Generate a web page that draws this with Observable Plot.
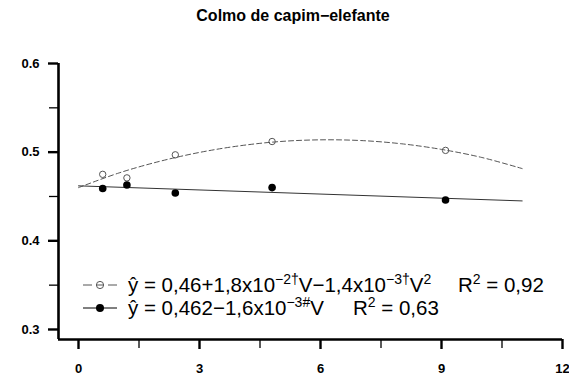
<!DOCTYPE html>
<html>
<head>
<meta charset="utf-8">
<script src="https://cdn.jsdelivr.net/npm/d3@7"></script>
<script src="https://cdn.jsdelivr.net/npm/@observablehq/plot@0.6"></script>
<style>
  html, body { margin: 0; padding: 0; background: #fff; }
  #chart { width: 569px; height: 381px; }
</style>
</head>
<body>
<div id="chart"></div>
<script>
// ---- data ----
const title = "Colmo de capim\u2212elefante";
const doseV = [0.6, 1.2, 2.4, 4.8, 9.1];
const openY = [0.475, 0.471, 0.497, 0.512, 0.502];
const filledY = [0.459, 0.463, 0.454, 0.460, 0.446];
// fitted quadratic curve
const curveV = [0, 1, 2, 3, 4, 5, 6, 7, 8, 9, 10, 11];
const curveY = [0.460, 0.4765, 0.4895, 0.4997, 0.5072, 0.5120, 0.5139, 0.5131, 0.5095, 0.5031, 0.4940, 0.4815];
// fitted straight line
const lineV = [0, 11];
const lineY = [0.462, 0.445];
const xMajor = [0, 3, 6, 9, 12];
const xMinor = [1.5, 4.5, 7.5, 10.5];
const yMajor = [0.3, 0.4, 0.5, 0.6];
const yMinor = [0.35, 0.45, 0.55];
const legend1 = {parts: [["\u0177 = 0,46+1,8x10", 0], ["\u22122\u2020", 1], ["V\u22121,4x10", 0], ["\u22123\u2020", 1], ["V", 0], ["2", 1]], r2: "0,92"};
const legend2 = {parts: [["\u0177 = 0,462\u22121,6x10", 0], ["\u22123#", 1], ["V", 0]], r2: "0,63"};

const openData = doseV.map((v, i) => ({v, y: openY[i]}));
const filledData = doseV.map((v, i) => ({v, y: filledY[i]}));
const curveData = curveV.map((v, i) => ({v, y: curveY[i]}));
const lineData = lineV.map((v, i) => ({v, y: lineY[i]}));

const xMin = -0.496, yMin = 0.2887;
const font = "'Liberation Sans', Arial, Helvetica, sans-serif";

const plot = Plot.plot({
  width: 569,
  height: 381,
  marginTop: 63,
  marginBottom: 42,
  marginLeft: 58,
  marginRight: 7,
  style: {fontFamily: font, background: "#fff", color: "#000"},
  x: {domain: [xMin, 12], label: null},
  y: {domain: [yMin, 0.6], label: null},
  marks: [
    Plot.axisX(xMajor, {tickSize: 10, tickPadding: 14, strokeWidth: 2.4, stroke: "#000", fontWeight: "bold", fontSize: 13,
      tickFormat: d => String(d), label: null}),
    Plot.axisX(xMinor, {tickSize: 9, strokeWidth: 1.3, stroke: "#000", tickFormat: () => "", label: null}),
    Plot.axisY(yMajor, {tickSize: 10, tickPadding: 9, strokeWidth: 2.4, stroke: "#000", fontWeight: "bold", fontSize: 13,
      tickFormat: d => d.toFixed(1), label: null}),
    Plot.axisY(yMinor, {tickSize: 9, strokeWidth: 1.3, stroke: "#000", tickFormat: () => "", label: null}),
    Plot.ruleX([xMin], {y1: yMin, y2: 0.6, strokeWidth: 2.6, stroke: "#000"}),
    Plot.ruleY([yMin], {x1: xMin, x2: 12, strokeWidth: 2.6, stroke: "#000"}),
    Plot.line(curveData, {x: "v", y: "y", stroke: "#555", strokeWidth: 1, strokeDasharray: "5,3", curve: "catmull-rom"}),
    Plot.line(lineData, {x: "v", y: "y", stroke: "#333", strokeWidth: 1}),
    Plot.dot(openData, {x: "v", y: "y", r: 3.2, stroke: "#555", strokeWidth: 1, fill: "none"}),
    Plot.dot(filledData, {x: "v", y: "y", r: 3.8, fill: "#000", stroke: "none"})
  ]
});

document.getElementById("chart").appendChild(plot);

const svg = d3.select(plot);
svg.append("text")
  .attr("x", 293).attr("y", 21)
  .attr("text-anchor", "middle")
  .attr("font-family", font).attr("font-weight", "bold").attr("font-size", 16)
  .attr("fill", "#000")
  .text(title);

const SUP = 8;
function legendRow(g, row, y, dashed) {
  const cy = y - 7;
  if (dashed) {
    g.append("line").attr("x1", 83).attr("x2", 92).attr("y1", cy).attr("y2", cy).attr("stroke", "#555");
    g.append("line").attr("x1", 108).attr("x2", 117).attr("y1", cy).attr("y2", cy).attr("stroke", "#555");
    g.append("circle").attr("cx", 100).attr("cy", cy).attr("r", 3.6).attr("fill", "#fff").attr("stroke", "#555");
    g.append("line").attr("x1", 96.4).attr("x2", 103.6).attr("y1", cy).attr("y2", cy).attr("stroke", "#555");
  } else {
    g.append("line").attr("x1", 83).attr("x2", 117).attr("y1", cy).attr("y2", cy).attr("stroke", "#000");
    g.append("circle").attr("cx", 100).attr("cy", cy).attr("r", 4).attr("fill", "#000");
  }
  const t = g.append("text").attr("x", 128).attr("y", y).attr("text-anchor", "start")
    .attr("font-family", font).attr("font-size", 20.5).attr("fill", "#000");
  let raised = false;
  for (const [s, sup] of row.parts) {
    const ts = t.append("tspan").text(s);
    if (sup) ts.attr("font-size", 14);
    if (sup && !raised) { ts.attr("dy", -SUP); raised = true; }
    else if (!sup && raised) { ts.attr("dy", SUP); raised = false; }
  }
}
const lg = svg.append("g").attr("text-anchor", "start");
legendRow(lg, legend1, 292, true);
legendRow(lg, legend2, 315, false);
function r2(x, y, val) {
  const t = lg.append("text").attr("x", x).attr("y", y).attr("text-anchor", "start")
    .attr("font-family", font).attr("font-size", 20.5).attr("fill", "#000");
  t.append("tspan").text("R");
  t.append("tspan").attr("dy", -SUP).attr("font-size", 14).text("2");
  t.append("tspan").attr("dy", SUP).text(" = " + val);
}
r2(458, 292, legend1.r2);
r2(353, 315, legend2.r2);
</script>
</body>
</html>
